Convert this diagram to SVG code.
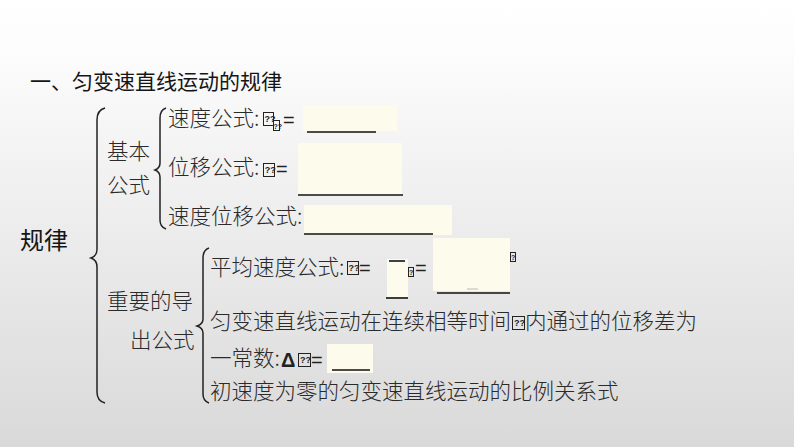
<svg xmlns="http://www.w3.org/2000/svg" width="794" height="447" viewBox="0 0 794 447">
<defs>
<linearGradient id="bg" x1="0" y1="0" x2="0" y2="1">
<stop offset="0" stop-color="#ffffff"/>
<stop offset="0.12" stop-color="#fcfcfc"/>
<stop offset="1" stop-color="#d9d9d9"/>
</linearGradient>
<style>
.t{font-family:"Noto Sans CJK SC","Noto Sans",sans-serif;font-size:21.5px;fill:#2a2a2a;font-weight:300}
.h{font-family:"Noto Sans CJK SC","Noto Sans",sans-serif;font-size:21px;fill:#151515;font-weight:400}
.r{font-family:"Noto Sans CJK SC","Noto Sans",sans-serif;font-size:24px;fill:#151515;font-weight:400}
.eq{font-family:"Liberation Sans",sans-serif;font-size:20px;fill:#222}
.box{fill:#fdfbeb}
.ul{stroke:#111;stroke-width:1.6}
.br{fill:none;stroke:#222;stroke-width:1.5}
.tofu{fill:none;stroke:#222;stroke-width:1}
.tq{font-family:"Liberation Sans",sans-serif;font-size:9px;font-weight:bold;fill:#222}
</style>
</defs>
<rect width="794" height="447" fill="url(#bg)"/>

<g id="title"><text class="h" x="30" y="89">一、匀变速直线运动的规律</text></g>

<g id="root"><text class="r" x="20" y="249">规律</text></g>

<g id="connectors">
<path class="br" d="M105,108 Q97,110 97,120 L97,249 Q97,256 91,258 Q97,260 97,267 L97,392 Q97,401 105,403"/>
<path class="br" d="M166,108 Q160,110 160,118 L160,163 Q160,168 155,170 Q160,172 160,177 L160,220 Q160,227 166,229"/>
<path class="br" d="M209,248 Q203,250 203,258 L203,319 Q203,324 197,326 Q203,328 203,333 L203,394 Q203,401 209,403"/>
</g>

<g id="branch-basic">
<text class="t" x="107" y="159">基本</text>
<text class="t" x="107" y="193">公式</text>
</g>

<g id="branch-derived">
<text class="t" x="107" y="309">重要的导</text>
<text class="t" x="130" y="348">出公式</text>
</g>

<g id="leaf-velocity">
<rect class="box" x="303" y="105" width="94" height="26"/>
<text class="t" x="168" y="126">速度公式:</text>
<rect class="tofu" x="263.5" y="112.5" width="10" height="13"/>
<text class="tq" x="264.5" y="122">??</text>
<rect class="tofu" x="273.5" y="120.5" width="6" height="10"/>
<text class="tq" x="273.6" y="128.5" style="font-size:7px">??</text>
<text class="eq" x="283" y="127">=</text>
<line class="ul" x1="307" y1="132" x2="376" y2="132"/>
</g>

<g id="leaf-displacement">
<rect class="box" x="298" y="143" width="104" height="53"/>
<text class="t" x="168" y="175">位移公式:</text>
<rect class="tofu" x="263.5" y="163.5" width="11" height="13"/>
<text class="tq" x="264.8" y="173">??</text>
<text class="eq" x="276" y="176">=</text>
<line class="ul" x1="298" y1="195" x2="403" y2="195"/>
</g>

<g id="leaf-vel-disp">
<rect class="box" x="304" y="205" width="148" height="30"/>
<text class="t" x="168" y="224">速度位移公式:</text>
<line class="ul" x1="304" y1="234" x2="433" y2="234"/>
</g>

<g id="leaf-average">
<rect class="box" x="387" y="259" width="21" height="38"/>
<rect class="box" x="433" y="238" width="77" height="53"/>
<text class="t" x="210" y="275">平均速度公式:</text>
<rect class="tofu" x="347.5" y="261.5" width="11" height="13"/>
<text class="tq" x="348.6" y="271">??</text>
<text class="eq" x="359" y="275">=</text>
<line class="ul" x1="389" y1="261" x2="405" y2="261"/>
<line class="ul" x1="386" y1="298" x2="408" y2="298"/>
<rect class="tofu" x="408.5" y="267.5" width="5" height="9"/>
<text class="tq" x="409" y="275" style="font-size:7px">?</text>
<text class="eq" x="415" y="275">=</text>
<rect class="tofu" x="510.5" y="252.5" width="5" height="9"/>
<text class="tq" x="511" y="260" style="font-size:7px">?</text>
<line x1="467" y1="289" x2="478" y2="289" stroke="#bbb" stroke-width="1"/>
<line class="ul" x1="437" y1="293" x2="510" y2="293"/>
</g>

<g id="leaf-difference">
<text class="t" x="210" y="329">匀变速直线运动在连续相等时间</text>
<rect class="tofu" x="512.5" y="316.5" width="12" height="13"/>
<text class="tq" x="514" y="326">??</text>
<text class="t" x="525" y="329">内通过的位移差为</text>
<rect class="box" x="327" y="344" width="46" height="29"/>
<text class="t" x="210" y="366">一常数:</text>
<text class="eq" x="281" y="367" style="font-weight:bold">Δ</text>
<rect class="tofu" x="298.5" y="353.5" width="12" height="13"/>
<text class="tq" x="300" y="363">??</text>
<text class="eq" x="311" y="367">=</text>
<line class="ul" x1="332" y1="370" x2="370" y2="370"/>
</g>

<g id="leaf-ratio">
<text class="t" x="210" y="399">初速度为零的匀变速直线运动的比例关系式</text>
</g>
</svg>
